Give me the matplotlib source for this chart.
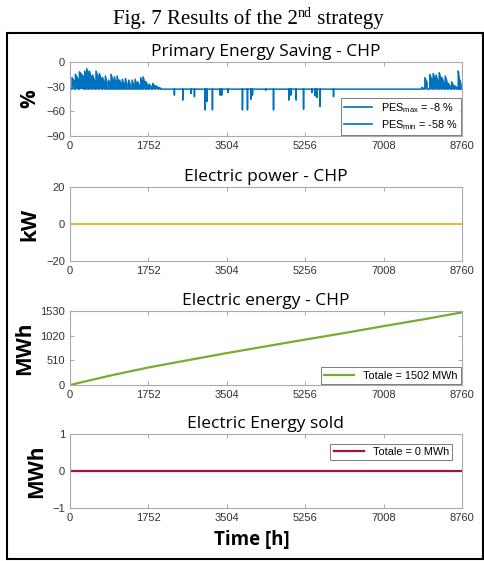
import numpy as np
import matplotlib.pyplot as plt
from matplotlib.lines import Line2D

plt.rcParams['font.family'] = ['Liberation Sans', 'DejaVu Sans']
plt.rcParams['mathtext.fontset'] = 'custom'
plt.rcParams['mathtext.rm'] = 'Liberation Sans'
plt.rcParams['mathtext.it'] = 'Liberation Sans'

hours_ticks = [0, 1752, 3504, 5256, 7008, 8760]

# Primary energy saving: baseline level, blocks above it, dips below it
pes_base = -33
up_start = [45, 120, 210, 328, 373, 432, 507, 581, 656, 730, 790, 865, 917, 991, 1051,
            1111, 1170, 1237, 1312, 1387, 1454, 1513, 1580, 1633, 1700, 1767, 1849, 1916, 1990,
            7860, 7930, 8040, 8115, 8180, 8250, 8312, 8385, 8452, 8528, 8600, 8676, 8715]
up_end = [100, 190, 305, 368, 412, 485, 560, 632, 708, 768, 828, 902, 962, 1028, 1090,
          1148, 1208, 1275, 1350, 1424, 1490, 1550, 1618, 1678, 1736, 1818, 1900, 1975, 2025,
          7900, 7980, 8090, 8160, 8225, 8295, 8360, 8425, 8500, 8570, 8645, 8700, 8740]
up_top = [-19, -15, -12, -11, -8, -11, -16, -11, -14, -19, -17, -22, -15, -18, -17,
          -22, -21, -20, -22, -22, -21, -24, -19, -18, -24, -27, -26, -29, -31,
          -31, -19, -15, -14, -16, -13, -19, -17, -26, -24, -29, -11, -22]
up_end_val = [-24, -22, -18, -20, -15, -20, -25, -19, -22, -26, -25, -28, -23, -26, -25,
              -28, -27, -27, -28, -28, -28, -29, -26, -26, -29, -30, -30, -31, -32,
              -32, -25, -22, -21, -24, -21, -26, -24, -30, -29, -31, -20, -28]
dip_hour = [2333, 2520, 2706, 2781, 3019, 3057, 3183, 3355, 3390, 3526, 3854, 3966, 4041,
            4078, 4376, 4548, 4890, 4935, 5054, 5219, 5405, 5480, 5517, 5591, 5889]
dip_value = [-40, -46, -38, -42, -58, -48, -58, -40, -40, -37, -58, -58, -45,
             -40, -34, -58, -46, -40, -46, -57, -37, -41, -43, -54, -42]

# Electric power, cumulative electric energy, energy sold
power_hours = [0, 8760]
power_kw = [0, 0]
energy_hours = [0, 876, 1752, 2628, 3504, 4380, 5256, 6132, 7008, 7884, 8760]
energy_mwh = [0, 190, 362, 512, 660, 800, 939, 1075, 1217, 1355, 1502]
sold_hours = [0, 8760]
sold_mwh = [0, 0]

# build the PES polyline from the blocks and dips
events = []
for s, e, t, ev in zip(up_start, up_end, up_top, up_end_val):
    events.append((s, [(s, pes_base), (s, t), (e, ev), (e, pes_base)]))
for h, v in zip(dip_hour, dip_value):
    events.append((h, [(h, pes_base), (h, v), (h, pes_base)]))
events.sort(key=lambda ev: ev[0])
pes_x = [0]
pes_y = [pes_base]
for _, pts in events:
    for px, py in pts:
        pes_x.append(px)
        pes_y.append(py)
pes_x.append(8760)
pes_y.append(pes_base)
pes_x = np.array(pes_x)
pes_y = np.array(pes_y)

W, H = 485, 561
fig = plt.figure(figsize=(W / 100, H / 100), dpi=100)

title_font = ['Open Sans', 'DejaVu Sans']
label_font = ['Open Sans', 'DejaVu Sans']


def make_axes(top_px):
    ax = fig.add_axes([70 / W, 1 - (top_px + 74) / H, 392 / W, 74 / H])
    ax.set_xlim(0, 8760)
    ax.set_xticks(hours_ticks)
    ax.tick_params(direction='in', top=True, right=True, length=3, width=0.6,
                   color='#999999', labelcolor='#333333', labelsize=8, pad=3.5)
    for sp in ax.spines.values():
        sp.set_color('#aaaaaa')
        sp.set_linewidth(0.8)
    return ax


def style_legend(leg):
    leg.get_frame().set_edgecolor('#444444')
    leg.get_frame().set_linewidth(0.6)


ax1 = make_axes(62)
ax1.plot(pes_x, pes_y, color='#0072BD', lw=1.1)
ax1.fill_between(pes_x, pes_base, pes_y, where=pes_y > pes_base, color='#0072BD', lw=0)
ax1.set_ylim(-90, 0)
ax1.set_yticks([-90, -60, -30, 0])
ax1.set_title('Primary Energy Saving - CHP', family=title_font, fontsize=12.5, pad=4)
ax1.set_ylabel('%', family=label_font, fontsize=15, fontweight='bold')
handles = [Line2D([], [], color='#0072BD', lw=1.2), Line2D([], [], color='#0072BD', lw=1.2)]
leg = ax1.legend(handles, [r'PES$_{\mathrm{max}}$ = -8 %', r'PES$_{\mathrm{min}}$ = -58 %'],
                 loc='lower right', fontsize=7.8, frameon=True, fancybox=False,
                 borderaxespad=0.1, handlelength=2.6, labelspacing=0.3, borderpad=0.3)
style_legend(leg)

ax2 = make_axes(187)
ax2.plot(power_hours, power_kw, color='#EDB120', lw=1.3)
ax2.set_ylim(-20, 20)
ax2.set_yticks([-20, 0, 20])
ax2.set_title('Electric power - CHP', family=title_font, fontsize=12.5, pad=4)
ax2.set_ylabel('kW', family=label_font, fontsize=15, fontweight='bold')

ax3 = make_axes(311)
ax3.plot(energy_hours, energy_mwh, color='#77AC30', lw=1.6, label='Totale = 1502 MWh')
ax3.set_ylim(0, 1530)
ax3.set_yticks([0, 510, 1020, 1530])
ax3.set_title('Electric energy - CHP', family=title_font, fontsize=12.5, pad=4)
ax3.set_ylabel('MWh', family=label_font, fontsize=15, fontweight='bold')
leg = ax3.legend(loc='lower right', fontsize=7.8, fancybox=False, borderaxespad=0.1,
                 handlelength=2.8, borderpad=0.3)
style_legend(leg)

ax4 = make_axes(434)
ax4.plot(sold_hours, sold_mwh, color='#A2142F', lw=1.6, label='Totale = 0 MWh')
ax4.set_ylim(-1, 1)
ax4.set_yticks([-1, 0, 1])
ax4.set_title('Electric Energy sold', family=title_font, fontsize=12.5, pad=4)
ax4.set_ylabel('MWh', family=label_font, fontsize=15, fontweight='bold')
ax4.set_xlabel('Time [h]', family=label_font, fontsize=13.5, fontweight='bold', labelpad=2)
ax4.xaxis.set_label_coords(0.465, -0.3)
leg = ax4.legend(loc='upper right', fontsize=7.8, fancybox=False, borderaxespad=0.9,
                 handlelength=2.8, borderpad=0.3)
style_legend(leg)

# outer frame around the panels
fig.add_artist(plt.Rectangle((7 / W, 1 - 559 / H), 476 / W, 526 / H,
                             transform=fig.transFigure, fill=False, lw=1.5, ec='black'))

# caption with superscript, laid out piece by piece
serif = ['Liberation Serif', 'DejaVu Serif']
renderer = fig.canvas.get_renderer()
base_y = 1 - 24 / H
p1 = fig.text(0, base_y, 'Fig. 7 Results of the 2', family=serif, fontsize=15, va='baseline')
p2 = fig.text(0, base_y + 7 / H, 'nd', family=serif, fontsize=10, va='baseline')
p3 = fig.text(0, base_y, ' strategy', family=serif, fontsize=15, va='baseline')
widths = [p.get_window_extent(renderer).width for p in (p1, p2, p3)]
x = 248 - sum(widths) / 2
for p, w in zip((p1, p2, p3), widths):
    p.set_x(x / W)
    x += w

fig.savefig('out.png', dpi=100)
